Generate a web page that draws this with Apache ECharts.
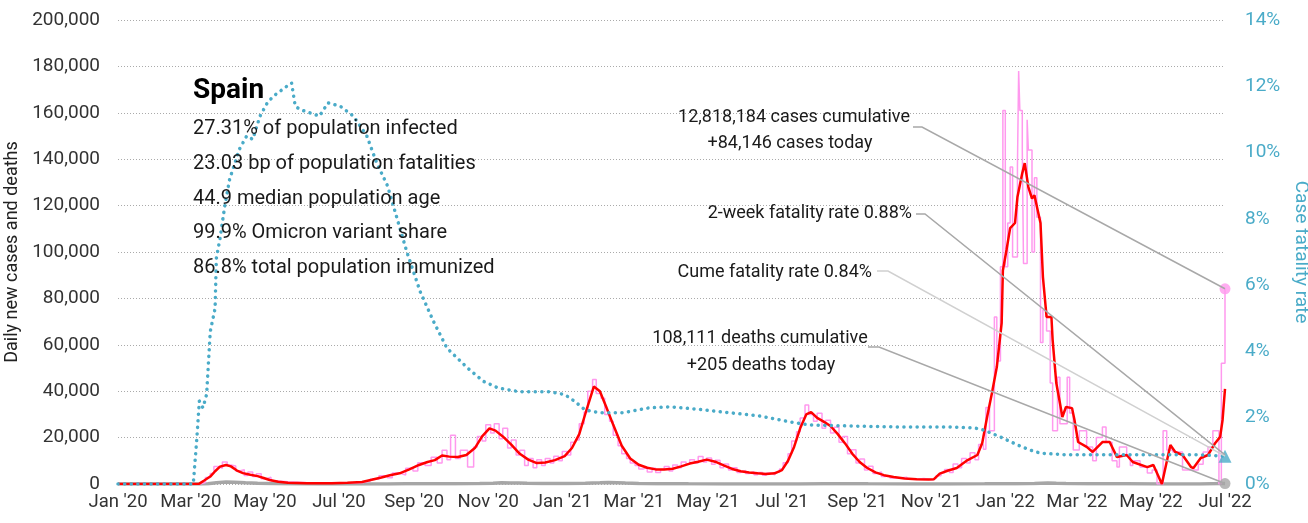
<!DOCTYPE html>
<html>
<head>
<meta charset="utf-8">
<script src="https://cdn.jsdelivr.net/npm/echarts@6/dist/echarts.min.js"></script>
<style>
  html, body { margin: 0; padding: 0; background: #fff; }
  #main { width: 1308px; height: 523px; }
</style>
</head>
<body>
<div id="main"></div>
<script type="text/javascript">

    // x axis ticks (every two months)
    var tickDates = ['2020-01-01','2020-03-01','2020-05-01','2020-07-01','2020-09-01','2020-11-01',
        '2021-01-01','2021-03-01','2021-05-01','2021-07-01','2021-09-01','2021-11-01',
        '2022-01-01','2022-03-01','2022-05-01','2022-07-01'];
    var tickLabels = ["Jan '20","Mar '20","May '20","Jul '20","Sep '20","Nov '20",
        "Jan '21","Mar '21","May '21","Jul '21","Sep '21","Nov '21",
        "Jan '22","Mar '22","May '22","Jul '22"];

    // daily new cases (pink)
    var casesDaily = [
        ['2020-01-01',0],['2020-03-01',0],['2020-03-09',600],['2020-03-13',2800],['2020-03-17',4500],
        ['2020-03-20',7500],['2020-03-24',6800],['2020-03-27',9500],['2020-03-31',8200],['2020-04-03',7800],
        ['2020-04-07',5600],['2020-04-10',6200],['2020-04-14',3700],['2020-04-17',5200],['2020-04-21',3200],
        ['2020-04-24',4400],['2020-04-28',2300],['2020-05-02',2900],['2020-05-06',1300],['2020-05-12',1000],
        ['2020-05-20',500],['2020-06-05',300],['2020-06-25',400],['2020-07-10',500],['2020-07-20',1300],
        ['2020-07-27',2200],['2020-08-03',3600],['2020-08-10',2700],['2020-08-14',4700],['2020-08-20',3900],
        ['2020-08-25',6800],['2020-08-31',5600],['2020-09-04',9200],['2020-09-10',8000],['2020-09-15',11500],
        ['2020-09-20',9000],['2020-09-24',14500],['2020-09-28',10500],['2020-10-01',21000],['2020-10-05',11000],
        ['2020-10-09',14500],['2020-10-15',7300],['2020-10-20',16000],['2020-10-23',20500],['2020-10-27',18500],
        ['2020-10-30',25500],['2020-11-03',22000],['2020-11-06',26000],['2020-11-10',19500],['2020-11-13',24000],
        ['2020-11-17',15500],['2020-11-20',19000],['2020-11-24',12500],['2020-11-27',14500],['2020-12-01',8000],
        ['2020-12-04',11000],['2020-12-08',7000],['2020-12-11',10500],['2020-12-15',8000],['2020-12-18',11000],
        ['2020-12-22',9000],['2020-12-25',12000],['2020-12-29',10000],['2021-01-01',14000],['2021-01-05',12500],
        ['2021-01-08',18000],['2021-01-12',19000],['2021-01-15',26000],['2021-01-19',31000],['2021-01-22',40000],
        ['2021-01-26',45000],['2021-01-29',39000],['2021-02-02',37000],['2021-02-05',30000],['2021-02-09',27000],
        ['2021-02-12',21000],['2021-02-16',16500],['2021-02-19',13000],['2021-02-23',11000],['2021-02-26',9000],
        ['2021-03-02',8000],['2021-03-05',6500],['2021-03-09',7200],['2021-03-12',5200],['2021-03-16',6800],
        ['2021-03-19',5000],['2021-03-23',6200],['2021-03-26',7500],['2021-03-30',5600],['2021-04-02',8200],
        ['2021-04-06',7000],['2021-04-09',9500],['2021-04-13',8500],['2021-04-16',10500],['2021-04-20',9000],
        ['2021-04-23',11800],['2021-04-27',9500],['2021-04-30',11200],['2021-05-04',8500],['2021-05-07',10200],
        ['2021-05-11',7000],['2021-05-14',8600],['2021-05-18',6000],['2021-05-21',7000],['2021-05-25',5000],
        ['2021-05-28',5800],['2021-06-01',4500],['2021-06-04',5300],['2021-06-08',4000],['2021-06-11',5000],
        ['2021-06-15',3800],['2021-06-18',4700],['2021-06-22',3900],['2021-06-25',5100],['2021-06-29',6500],
        ['2021-07-02',9200],['2021-07-06',13000],['2021-07-09',18500],['2021-07-13',22500],['2021-07-16',28500],
        ['2021-07-20',34000],['2021-07-23',30000],['2021-07-27',27000],['2021-07-30',30500],['2021-08-03',24000],
        ['2021-08-06',27500],['2021-08-10',22000],['2021-08-13',24500],['2021-08-17',18000],['2021-08-20',20500],
        ['2021-08-24',13000],['2021-08-27',14800],['2021-08-31',9000],['2021-09-03',10800],['2021-09-07',6000],
        ['2021-09-10',7600],['2021-09-14',4500],['2021-09-17',5200],['2021-09-21',3200],['2021-09-24',3600],
        ['2021-09-28',2600],['2021-10-05',2900],['2021-10-12',2000],['2021-10-19',2400],['2021-10-26',1800],
        ['2021-11-02',2600],['2021-11-05',3600],['2021-11-09',4800],['2021-11-12',6200],['2021-11-16',5000],
        ['2021-11-19',8600],['2021-11-23',7000],['2021-11-26',11000],['2021-11-30',9000],['2021-12-03',13500],
        ['2021-12-07',10500],['2021-12-10',17000],['2021-12-14',15000],['2021-12-16',33000],['2021-12-19',23000],
        ['2021-12-23',72000],['2021-12-25',53000],['2021-12-28',93600],['2021-12-30',161000],['2022-01-01',93600],
        ['2022-01-03',112500],['2022-01-05',136600],['2022-01-07',97800],['2022-01-11',136600],['2022-01-12',178000],
        ['2022-01-13',161000],['2022-01-15',144000],['2022-01-16',95000],['2022-01-19',157000],['2022-01-20',144000],
        ['2022-01-23',100000],['2022-01-25',132000],['2022-01-27',115000],['2022-01-30',61000],['2022-02-01',75000],
        ['2022-02-04',66000],['2022-02-07',43500],['2022-02-09',23000],['2022-02-13',46000],['2022-02-15',26000],
        ['2022-02-21',46000],['2022-02-23',30600],['2022-02-26',14700],['2022-03-03',23000],['2022-03-09',16000],
        ['2022-03-14',10000],['2022-03-17',20000],['2022-03-22',24600],['2022-03-25',18000],['2022-03-30',10000],
        ['2022-04-03',7300],['2022-04-05',16000],['2022-04-11',12000],['2022-04-14',8000],['2022-04-16',10000],
        ['2022-04-22',7300],['2022-04-28',4700],['2022-05-02',6000],['2022-05-06',0],['2022-05-11',23000],
        ['2022-05-14',14700],['2022-05-19',13800],['2022-05-27',6000],['2022-06-05',6000],['2022-06-09',8500],
        ['2022-06-13',13800],['2022-06-17',16000],['2022-06-21',23000],['2022-06-26',0],['2022-06-28',52000],
        ['2022-07-01',84146]
    ];

    // 7-day average of new cases (red)
    var casesAvg = [
        ['2020-01-01',0],['2020-03-01',0],['2020-03-08',150],['2020-03-12',1500],['2020-03-17',3200],
        ['2020-03-21',5500],['2020-03-25',7500],['2020-03-30',8200],['2020-04-03',7600],['2020-04-08',5800],
        ['2020-04-13',4700],['2020-04-19',4000],['2020-04-25',3400],['2020-04-30',2600],['2020-05-05',1700],
        ['2020-05-12',1000],['2020-05-20',500],['2020-06-05',350],['2020-06-25',350],['2020-07-08',500],
        ['2020-07-20',900],['2020-07-28',1800],['2020-08-05',2800],['2020-08-12',3800],['2020-08-20',4600],
        ['2020-08-28',6300],['2020-09-05',8200],['2020-09-12',9500],['2020-09-18',10300],['2020-09-24',12300],
        ['2020-09-30',11800],['2020-10-07',11600],['2020-10-14',12500],['2020-10-21',15500],['2020-10-27',20500],
        ['2020-11-02',24000],['2020-11-07',23000],['2020-11-13',20500],['2020-11-20',17000],['2020-11-27',13000],
        ['2020-12-04',10500],['2020-12-11',9000],['2020-12-18',9300],['2020-12-26',10300],['2021-01-03',12000],
        ['2021-01-09',15500],['2021-01-15',21500],['2021-01-21',32000],['2021-01-27',42000],['2021-02-01',40000],
        ['2021-02-06',33500],['2021-02-12',25500],['2021-02-19',16500],['2021-02-26',11000],['2021-03-05',8300],
        ['2021-03-12',7000],['2021-03-19',6300],['2021-03-26',6200],['2021-04-02',6600],['2021-04-09',7600],
        ['2021-04-16',8800],['2021-04-23',9600],['2021-04-30',10500],['2021-05-07',9600],['2021-05-14',8000],
        ['2021-05-21',6500],['2021-05-28',5500],['2021-06-04',5000],['2021-06-11',4600],['2021-06-18',4300],
        ['2021-06-25',4600],['2021-07-01',6000],['2021-07-06',10000],['2021-07-11',16000],['2021-07-16',24000],
        ['2021-07-21',30000],['2021-07-25',31000],['2021-07-30',28500],['2021-08-04',27000],['2021-08-10',25000],
        ['2021-08-16',21500],['2021-08-22',17500],['2021-08-28',13000],['2021-09-03',9500],['2021-09-09',7000],
        ['2021-09-16',5000],['2021-09-23',3800],['2021-10-01',3000],['2021-10-10',2400],['2021-10-20',2100],
        ['2021-10-30',1900],['2021-11-03',2000],['2021-11-08',4500],['2021-11-15',5800],['2021-11-22',6900],
        ['2021-11-27',8800],['2021-12-01',10300],['2021-12-09',12500],['2021-12-13',17700],['2021-12-17',28900],
        ['2021-12-21',39200],['2021-12-25',50400],['2021-12-29',69400],['2021-12-30',92000],['2022-01-02',100900],
        ['2022-01-05',110300],['2022-01-09',112500],['2022-01-11',123700],['2022-01-15',134000],['2022-01-17',138300],
        ['2022-01-20',128000],['2022-01-23',123000],['2022-01-25',124500],['2022-01-30',112500],['2022-02-01',89200],
        ['2022-02-04',72000],['2022-02-08',72000],['2022-02-09',62000],['2022-02-12',43500],['2022-02-15',34900],
        ['2022-02-17',28900],['2022-02-20',33200],['2022-02-25',32700],['2022-02-27',27600],['2022-03-02',18100],
        ['2022-03-09',16000],['2022-03-14',13800],['2022-03-22',18100],['2022-03-28',18100],['2022-04-03',11600],
        ['2022-04-11',12500],['2022-04-16',9500],['2022-04-28',7300],['2022-05-03',8200],['2022-05-10',0],
        ['2022-05-17',16800],['2022-05-21',13800],['2022-05-27',12500],['2022-06-03',7300],['2022-06-05',6900],
        ['2022-06-11',11200],['2022-06-17',12500],['2022-06-23',17700],['2022-06-27',20300],['2022-06-29',27600],
        ['2022-07-01',41000]
    ];

    // case fatality rate, % (cyan, right axis)
    var fatalityRate = [
        ['2020-01-01',0],['2020-03-03',0],['2020-03-06',1.4],['2020-03-08',2.5],['2020-03-11',2.3],
        ['2020-03-14',2.7],['2020-03-17',4.6],['2020-03-21',5.3],['2020-03-22',6.8],['2020-03-25',7.4],
        ['2020-03-29',8.4],['2020-04-02',9.2],['2020-04-10',10.1],['2020-04-16',10.5],['2020-04-21',10.4],
        ['2020-04-27',11.1],['2020-05-03',11.5],['2020-05-08',11.7],['2020-05-19',12.0],['2020-05-23',12.1],
        ['2020-05-26',11.4],['2020-05-30',11.3],['2020-06-15',11.1],['2020-06-22',11.5],['2020-07-02',11.4],
        ['2020-07-13',11.1],['2020-07-24',10.5],['2020-08-01',9.7],['2020-08-10',9.0],['2020-08-18',8.0],
        ['2020-08-26',7.0],['2020-09-06',5.8],['2020-09-17',4.9],['2020-09-28',4.1],['2020-10-15',3.5],
        ['2020-10-28',3.1],['2020-11-09',2.9],['2020-11-27',2.78],['2020-12-22',2.78],['2021-01-03',2.7],
        ['2021-01-11',2.5],['2021-01-20',2.23],['2021-02-01',2.15],['2021-02-20',2.15],['2021-03-14',2.3],
        ['2021-03-31',2.33],['2021-04-24',2.25],['2021-05-19',2.15],['2021-06-13',2.05],['2021-07-08',1.87],
        ['2021-07-24',1.78],['2021-08-26',1.75],['2021-10-06',1.72],['2021-11-16',1.72],['2021-12-07',1.69],
        ['2021-12-14',1.63],['2021-12-28',1.42],['2022-01-11',1.18],['2022-01-21',1.03],['2022-01-30',0.93],
        ['2022-02-21',0.88],['2022-04-16',0.88],['2022-06-11',0.88],['2022-07-01',0.84]
    ];

    // daily deaths (gray)
    var deathsDaily = [
        ['2020-01-01',0],['2020-03-08',0],['2020-03-15',100],['2020-03-22',500],['2020-03-30',850],
        ['2020-04-06',750],['2020-04-15',550],['2020-04-25',350],['2020-05-05',200],['2020-05-20',60],
        ['2020-06-15',10],['2020-07-15',10],['2020-08-10',30],['2020-08-25',80],['2020-09-15',150],
        ['2020-10-05',120],['2020-10-25',200],['2020-11-05',350],['2020-11-12',500],['2020-11-19',400],
        ['2020-11-26',450],['2020-12-03',300],['2020-12-15',200],['2021-01-05',200],['2021-01-20',350],
        ['2021-02-01',500],['2021-02-08',600],['2021-02-15',550],['2021-02-22',400],['2021-03-05',250],
        ['2021-03-20',150],['2021-04-15',80],['2021-05-15',50],['2021-06-15',25],['2021-07-15',40],
        ['2021-08-05',120],['2021-08-20',150],['2021-09-10',70],['2021-10-15',25],['2021-11-15',30],
        ['2021-12-15',60],['2022-01-10',150],['2022-01-25',250],['2022-02-05',400],['2022-02-12',300],
        ['2022-02-20',200],['2022-03-10',100],['2022-04-10',80],['2022-05-10',40],['2022-06-10',50],
        ['2022-07-01',205]
    ];

    var fatality2wk = 0.88;

    var infoTitle = 'Spain';
    var infoLines = ['27.31% of population infected', '23.03 bp of population fatalities',
        '44.9 median population age', '99.9% Omicron variant share', '86.8% total population immunized'];

    var FONT = 'Roboto, "Noto Sans", sans-serif';
    var CYAN = '#4aabc8';

    function ts(s) {
        var p = s.split('-');
        return Date.UTC(+p[0], +p[1] - 1, +p[2]);
    }
    function toData(arr) {
        var out = [];
        for (var i = 0; i < arr.length; i++) out.push([ts(arr[i][0]), arr[i][1]]);
        return out;
    }
    function last(arr) { var a = arr[arr.length - 1]; return [ts(a[0]), a[1]]; }

    var tickTimes = tickDates.map(ts);

    var myChart = echarts.init(document.getElementById('main'));

    var option = {
        animation: false,
        textStyle: { fontFamily: FONT },
        grid: { left: 118, right: 83, top: 20, bottom: 39, outerBoundsMode: 'none' },
        xAxis: {
            type: 'value',
            min: tickTimes[0],
            max: tickTimes[tickTimes.length - 1],
            axisLine: { show: false },
            axisTick: { show: false },
            splitLine: { show: false },
            axisLabel: {
                customValues: tickTimes,
                hideOverlap: false,
                showMinLabel: true,
                showMaxLabel: true,
                color: '#333',
                fontSize: 18.5,
                margin: 9,
                formatter: function (v) {
                    for (var i = 0; i < tickTimes.length; i++) {
                        if (Math.abs(tickTimes[i] - v) < 43200000) return tickLabels[i];
                    }
                    return '';
                }
            }
        },
        yAxis: [
            {
                type: 'value',
                min: 0, max: 200000, interval: 20000,
                name: 'Daily new cases and deaths',
                nameLocation: 'middle',
                nameGap: 88,
                nameTextStyle: { fontSize: 18, color: '#222' },
                axisLine: { show: false },
                axisTick: { show: false },
                axisLabel: {
                    color: '#333', fontSize: 19, margin: 18,
                    formatter: function (v) { return v.toLocaleString('en-US'); }
                },
                splitLine: { lineStyle: { color: '#aaa', type: [1, 2], width: 1 } }
            },
            {
                type: 'value',
                min: 0, max: 14, interval: 2,
                name: 'Case fatality rate',
                nameLocation: 'middle',
                nameGap: 60,
                nameRotate: -90,
                nameTextStyle: { fontSize: 19, color: CYAN },
                axisLine: { show: false },
                axisTick: { show: false },
                axisLabel: { color: CYAN, fontSize: 19, margin: 20, formatter: '{value}%' },
                splitLine: { show: false }
            }
        ],
        series: [
            {
                name: 'deaths', type: 'line', data: toData(deathsDaily),
                showSymbol: false, lineStyle: { color: '#a6a6a6', width: 3.5 }, z: 1
            },
            {
                name: 'cases', type: 'line', data: toData(casesDaily), step: 'end',
                showSymbol: false, lineStyle: { color: '#ff99ee', width: 1.5 }, z: 2
            },
            {
                name: 'cases avg', type: 'line', data: toData(casesAvg),
                showSymbol: false, lineStyle: { color: '#ff0000', width: 2.5 }, z: 3
            },
            {
                name: 'fatality', type: 'line', yAxisIndex: 1, data: toData(fatalityRate),
                showSymbol: false,
                lineStyle: { color: CYAN, width: 3.5, type: [0.1, 6.5], cap: 'round' }, z: 4
            },
            {
                type: 'scatter', data: [last(casesDaily)], symbol: 'circle', symbolSize: 11,
                itemStyle: { color: '#ff99ee' }, z: 6
            },
            {
                type: 'scatter', data: [last(deathsDaily)], symbol: 'circle', symbolSize: 11,
                itemStyle: { color: '#a6a6a6' }, z: 6
            },
            {
                type: 'scatter', yAxisIndex: 1, data: [last(fatalityRate)], symbol: 'triangle', symbolSize: 13,
                itemStyle: { color: CYAN }, z: 6
            }
        ]
    };
    myChart.setOption(option);

    // leader lines end at the chart's last points
    var tEnd = last(casesDaily)[0];
    var pCases = myChart.convertToPixel({ xAxisIndex: 0, yAxisIndex: 0 }, last(casesDaily));
    var pDeaths = myChart.convertToPixel({ xAxisIndex: 0, yAxisIndex: 0 }, last(deathsDaily));
    var p2wk = myChart.convertToPixel({ xAxisIndex: 0, yAxisIndex: 1 }, [tEnd, fatality2wk]);
    var pCume = myChart.convertToPixel({ xAxisIndex: 0, yAxisIndex: 1 }, last(fatalityRate));

    function txt(x, y, s, align, size, color, weight) {
        return {
            type: 'text', x: x, y: y, z: 100,
            style: {
                text: s, fill: color || '#1a1a1a', textAlign: align, textVerticalAlign: 'middle',
                font: (weight || 'normal') + ' ' + size + 'px ' + FONT
            }
        };
    }
    function leader(pts, color) {
        return {
            type: 'polyline', z: 99, silent: true,
            shape: { points: pts },
            style: { stroke: color, lineWidth: 1.5, fill: null }
        };
    }

    var graphics = [
        txt(193, 91, infoTitle, 'left', 28, '#000', 'bold')
    ];
    for (var i = 0; i < infoLines.length; i++) {
        graphics.push(txt(193, 129 + i * 34.8, infoLines[i], 'left', 20));
    }
    graphics.push(txt(794, 117, '12,818,184 cases cumulative', 'center', 18));
    graphics.push(txt(790, 143, '+84,146 cases today', 'center', 18));
    graphics.push(txt(912, 213, '2-week fatality rate 0.88%', 'right', 18));
    graphics.push(txt(872, 272, 'Cume fatality rate 0.84%', 'right', 18));
    graphics.push(txt(760, 338, '108,111 deaths cumulative', 'center', 18));
    graphics.push(txt(761, 365, '+205 deaths today', 'center', 18));

    graphics.push(leader([[913, 127], [922, 127], pCases], '#a8a8a8'));
    graphics.push(leader([[916, 214], [925, 214], p2wk], '#a8a8a8'));
    graphics.push(leader([[877, 271], [888, 271], pCume], '#d0d0d0'));
    graphics.push(leader([[868, 347], [879, 347], pDeaths], '#a8a8a8'));

    myChart.setOption({ graphic: graphics });

</script>
</body>
</html>
